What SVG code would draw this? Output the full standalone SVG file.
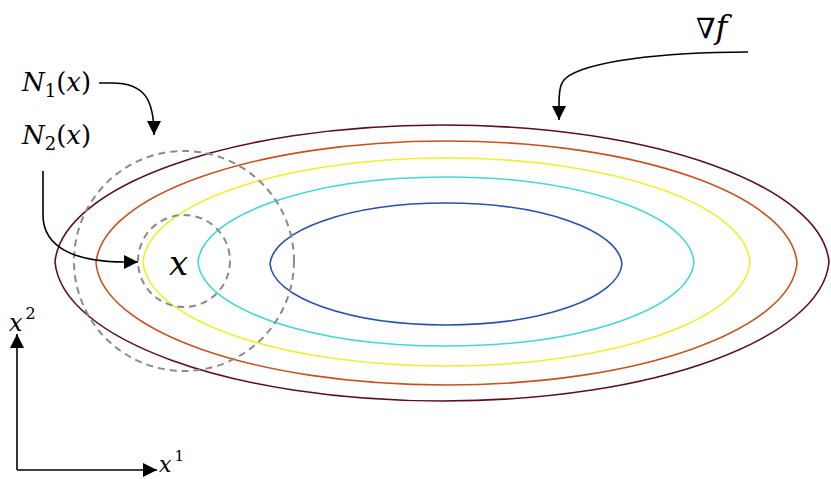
<svg xmlns="http://www.w3.org/2000/svg" width="831" height="479" viewBox="0 0 831 479">
<style>
.c{fill:none;stroke-width:1.6}
.d{fill:none;stroke:#8a8a8a;stroke-width:2;stroke-dasharray:7 5}
.a{fill:none;stroke:#000;stroke-width:1.6}
.t{font-family:'DejaVu Serif','Liberation Serif',serif;font-style:italic;fill:#000}
.n{font-family:'DejaVu Serif','Liberation Serif',serif;font-style:normal;fill:#000}
</style>
<defs>
<marker id="ah2" viewBox="0 0 10 10" refX="10" refY="5" markerWidth="14" markerHeight="14" markerUnits="userSpaceOnUse" orient="auto">
<path d="M0,0 L10,5 L0,10 Z" fill="#000"/>
</marker>
</defs>
<rect width="831" height="479" fill="#fff"/>
<g id="contours">
<path class="c" stroke="#5c0e1e" d="M55,262 C62,186.6 229.4,125 442.5,125 C655.6,125 822,186.6 829,262 C822,338.5 655.6,401 442.5,401 C229.4,401 62,338.5 55,262Z"/>
<path class="c" stroke="#c8501e" d="M96,263 C102,195.9 253.7,141 446.5,141 C639.3,141 791,195.9 797,263 C791,330.1 639.3,385 446.5,385 C253.7,385 102,330.1 96,263Z"/>
<path class="c" stroke="#eeee30" stroke-width="2" d="M143,262 C148,204.8 279.6,158 446.5,158 C613.4,158 745,204.8 750,262 C745,319.2 613.4,366 446.5,366 C279.6,366 148,319.2 143,262Z"/>
<path class="c" stroke="#40d8d8" d="M198,262 C202,215.5 309.6,177 446,177 C582.4,177 690,215.5 694,262 C690,308.5 582.4,346 446,346 C309.6,346 202,308.5 198,262Z"/>
<path class="c" stroke="#2850b0" d="M270,264 C273,230.4 349.2,203 446,203 C542.8,203 619,230.4 622,264 C619,297.6 542.8,325 446,325 C349.2,325 273,297.6 270,264Z"/>
</g>
<g id="N1">
<circle class="d" cx="184" cy="261" r="110"/>
<text class="t" x="22" y="91" font-size="26">N<tspan class="n" font-size="18" dy="6">1</tspan><tspan class="n" dy="-6">(</tspan>x<tspan class="n">)</tspan></text>
</g>
<g id="N2">
<circle class="d" cx="184" cy="261" r="46"/>
<text class="t" x="22" y="144" font-size="26">N<tspan class="n" font-size="18" dy="6">2</tspan><tspan class="n" dy="-6">(</tspan>x<tspan class="n">)</tspan></text>
</g>
<g id="x">
<text class="t" x="169" y="275" font-size="34">x</text>
</g>
<g id="grad">
<text class="n" x="696" y="38" font-size="28">∇<tspan class="t" font-size="32">f</tspan></text>
</g>
<g id="axes">
<text class="t" x="9" y="331" font-size="24">x<tspan class="n" font-size="16" dy="-12" dx="3">2</tspan></text>
<text class="t" x="159" y="472" font-size="22">x<tspan class="n" font-size="15" dy="-11" dx="3">1</tspan></text>
</g>
<g id="connectors">
<path class="a" d="M99,83 L112,83 C145,83 154,100 154,135" marker-end="url(#ah2)"/>
<path class="a" d="M43,171 L43,215 C43,250 80,262 124,262 L138,262" marker-end="url(#ah2)"/>
<path class="a" d="M748,52 C660,52 585,62 566,78 C561,82 559,88 559,105 L559,120" marker-end="url(#ah2)"/>
<path class="a" stroke-width="2" d="M17,470 L17,334" marker-end="url(#ah2)"/>
<path class="a" stroke-width="2" d="M17,470 L157,470" marker-end="url(#ah2)"/>
</g>
</svg>
